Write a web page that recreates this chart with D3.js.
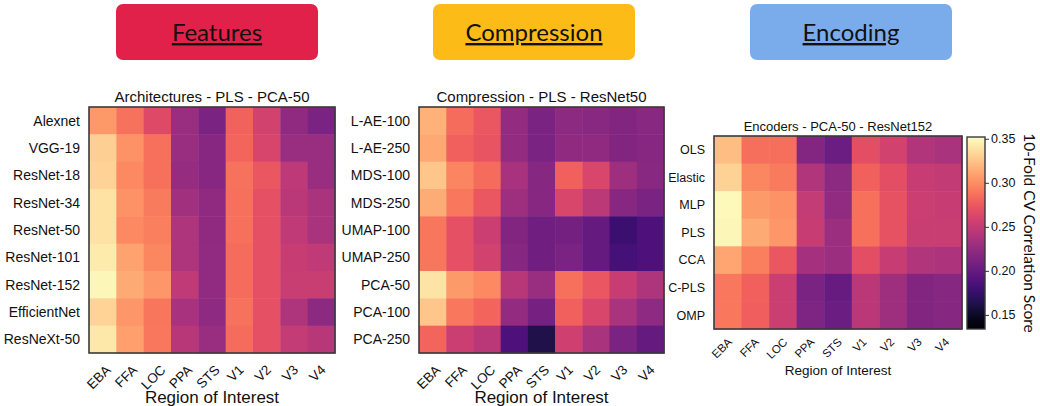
<!DOCTYPE html>
<html>
<head>
<meta charset="utf-8">
<script src="https://cdn.jsdelivr.net/npm/d3@7"></script>
<style>
  body { margin: 0; background: #fff; }
  svg { display: block; }
  text { font-family: "Liberation Sans", Arial, sans-serif; fill: #111; }
</style>
</head>
<body>
<svg id="chart" width="1040" height="406"></svg>
<script>
// regions of interest (columns, shared by all three panels)
const rois = ['EBA', 'FFA', 'LOC', 'PPA', 'STS', 'V1', 'V2', 'V3', 'V4'];

// panel 1 - architectures
const archRows = ['Alexnet', 'VGG-19', 'ResNet-18', 'ResNet-34', 'ResNet-50', 'ResNet-101', 'ResNet-152', 'EfficientNet', 'ResNeXt-50'];
const archValues = [
  [0.305, 0.288, 0.265, 0.228, 0.212, 0.280, 0.258, 0.223, 0.212],
  [0.330, 0.302, 0.287, 0.228, 0.219, 0.282, 0.261, 0.228, 0.228],
  [0.332, 0.298, 0.287, 0.226, 0.219, 0.288, 0.274, 0.247, 0.228],
  [0.339, 0.302, 0.292, 0.232, 0.223, 0.287, 0.270, 0.245, 0.237],
  [0.339, 0.298, 0.294, 0.239, 0.223, 0.287, 0.270, 0.248, 0.237],
  [0.343, 0.310, 0.297, 0.239, 0.224, 0.284, 0.270, 0.252, 0.248],
  [0.348, 0.313, 0.304, 0.248, 0.224, 0.284, 0.270, 0.253, 0.253],
  [0.332, 0.304, 0.289, 0.236, 0.222, 0.288, 0.270, 0.239, 0.221],
  [0.341, 0.308, 0.290, 0.243, 0.228, 0.284, 0.270, 0.250, 0.244]
];

// panel 2 - compression
const compRows = ['L-AE-100', 'L-AE-250', 'MDS-100', 'MDS-250', 'UMAP-100', 'UMAP-250', 'PCA-50', 'PCA-100', 'PCA-250'];
const compValues = [
  [0.317, 0.284, 0.274, 0.225, 0.212, 0.221, 0.220, 0.215, 0.220],
  [0.312, 0.279, 0.272, 0.225, 0.212, 0.223, 0.223, 0.215, 0.219],
  [0.326, 0.296, 0.284, 0.236, 0.218, 0.279, 0.262, 0.231, 0.220],
  [0.314, 0.290, 0.274, 0.231, 0.219, 0.262, 0.246, 0.219, 0.212],
  [0.289, 0.270, 0.254, 0.215, 0.206, 0.208, 0.200, 0.178, 0.187],
  [0.289, 0.270, 0.258, 0.218, 0.206, 0.212, 0.200, 0.183, 0.187],
  [0.340, 0.306, 0.298, 0.244, 0.228, 0.287, 0.273, 0.252, 0.239],
  [0.326, 0.290, 0.282, 0.225, 0.209, 0.279, 0.262, 0.237, 0.222],
  [0.281, 0.254, 0.245, 0.187, 0.163, 0.256, 0.237, 0.212, 0.200]
];

// panel 3 - encoders
const encRows = ['OLS', 'Elastic', 'MLP', 'PLS', 'CCA', 'C-PLS', 'OMP'];
const encValues = [
  [0.322, 0.286, 0.286, 0.216, 0.203, 0.268, 0.258, 0.240, 0.237],
  [0.331, 0.297, 0.292, 0.240, 0.221, 0.279, 0.268, 0.252, 0.249],
  [0.350, 0.306, 0.302, 0.250, 0.224, 0.287, 0.271, 0.254, 0.252],
  [0.348, 0.313, 0.304, 0.252, 0.230, 0.287, 0.271, 0.253, 0.253],
  [0.311, 0.294, 0.274, 0.234, 0.229, 0.268, 0.252, 0.240, 0.238],
  [0.290, 0.279, 0.254, 0.212, 0.201, 0.245, 0.231, 0.215, 0.218],
  [0.290, 0.278, 0.254, 0.214, 0.203, 0.245, 0.231, 0.215, 0.218]
];

// colour bar
const cbarTicks = [0.15, 0.20, 0.25, 0.30, 0.35];
const colorDomain = [0.134, 0.352];

// headers
const headers = ['Features', 'Compression', 'Encoding'];
const headerColors = ['#e2214a', '#fdbb17', '#7aacec'];

const svg = d3.select('#chart');
const color = d3.scaleSequential(d3.interpolateMagma).domain(colorDomain);

// header boxes
const headerX = d3.scalePoint().domain(headers).range([217, 851]);
const hdr = svg.append('g').selectAll('g')
    .data(headers)
    .enter().append('g')
    .attr('transform', d => `translate(${headerX(d)},0)`);
hdr.append('rect')
    .attr('x', -101)
    .attr('y', 4)
    .attr('width', 202)
    .attr('height', 56)
    .attr('rx', 7)
    .attr('fill', (d, i) => headerColors[i]);
hdr.append('text')
    .attr('y', 41)
    .attr('text-anchor', 'middle')
    .style('font-family', 'Lato, "Open Sans", sans-serif')
    .style('font-size', '24px')
    .style('text-decoration', 'underline')
    .text(d => d);

function drawHeatmap(opts) {
  const g = svg.append('g');
  const x = d3.scaleBand().domain(rois).range([opts.x0, opts.x1]);
  const y = d3.scaleBand().domain(opts.rows).range([opts.y0, opts.y1]);

  const cells = [];
  opts.values.forEach((row, i) => {
    row.forEach((v, j) => cells.push({ row: opts.rows[i], col: rois[j], v: v }));
  });

  g.selectAll('rect.cell')
      .data(cells)
      .enter().append('rect')
      .attr('class', 'cell')
      .attr('x', d => x(d.col))
      .attr('y', d => y(d.row))
      .attr('width', x.bandwidth() + 0.5)
      .attr('height', y.bandwidth() + 0.5)
      .attr('fill', d => color(d.v));

  g.append('rect')
      .attr('x', opts.x0)
      .attr('y', opts.y0)
      .attr('width', opts.x1 - opts.x0)
      .attr('height', opts.y1 - opts.y0)
      .attr('fill', 'none')
      .attr('stroke', '#3a3a3a')
      .attr('stroke-width', 1.6);

  g.append('text')
      .attr('x', (opts.x0 + opts.x1) / 2)
      .attr('y', opts.y0 - 5)
      .attr('text-anchor', 'middle')
      .style('font-size', opts.titleFs + 'px')
      .text(opts.title);

  g.selectAll('text.ylab')
      .data(opts.rows)
      .enter().append('text')
      .attr('class', 'ylab')
      .attr('x', opts.x0 - 9)
      .attr('y', d => y(d) + y.bandwidth() / 2)
      .attr('dy', '0.35em')
      .attr('text-anchor', 'end')
      .style('font-size', opts.fs + 'px')
      .text(d => d);

  // rotated tick labels, ink box hung just below the frame
  g.selectAll('text.xlab')
      .data(rois)
      .enter().append('text')
      .attr('class', 'xlab')
      .attr('text-anchor', 'middle')
      .attr('dy', '0.35em')
      .style('font-size', opts.xFs + 'px')
      .text(d => d)
      .each(function(d) {
        const w = this.getComputedTextLength();
        const h = opts.xFs * 0.72;
        const cx = x(d) + x.bandwidth() / 2 + opts.xShift;
        const cy = opts.y1 + opts.pad + (w + h) / (2 * Math.SQRT2);
        d3.select(this)
            .attr('x', cx)
            .attr('y', cy)
            .attr('transform', `rotate(-45,${cx},${cy})`);
      });

  g.append('text')
      .attr('x', (opts.x0 + opts.x1) / 2)
      .attr('y', opts.xTitleY)
      .attr('text-anchor', 'middle')
      .style('font-size', opts.xTitleFs + 'px')
      .text('Region of Interest');
}

drawHeatmap({
  title: 'Architectures - PLS - PCA-50',
  rows: archRows, values: archValues,
  x0: 89, x1: 335, y0: 107, y1: 353,
  fs: 14, titleFs: 15, xFs: 13.5, xShift: -4, pad: 11,
  xTitleY: 403, xTitleFs: 17
});

drawHeatmap({
  title: 'Compression - PLS - ResNet50',
  rows: compRows, values: compValues,
  x0: 419, x1: 664, y0: 107, y1: 353,
  fs: 14, titleFs: 15, xFs: 13.5, xShift: -4, pad: 11,
  xTitleY: 403, xTitleFs: 17
});

drawHeatmap({
  title: 'Encoders - PCA-50 - ResNet152',
  rows: encRows, values: encValues,
  x0: 714, x1: 962, y0: 136, y1: 329,
  fs: 12.5, titleFs: 13, xFs: 11.5, xShift: -6, pad: 8,
  xTitleY: 375, xTitleFs: 13.5
});

// colour bar
const cb = { x: 967, w: 18, y0: 137, y1: 329 };
const defs = svg.append('defs');
const grad = defs.append('linearGradient')
    .attr('id', 'cbar')
    .attr('x1', 0).attr('y1', 1)
    .attr('x2', 0).attr('y2', 0);
d3.range(0, 1.0001, 0.05).forEach(t => {
  grad.append('stop')
      .attr('offset', t)
      .attr('stop-color', d3.interpolateMagma(t));
});

const cbScale = d3.scaleLinear().domain(colorDomain).range([cb.y1, cb.y0]);
svg.append('rect')
    .attr('x', cb.x)
    .attr('y', cb.y0)
    .attr('width', cb.w)
    .attr('height', cb.y1 - cb.y0)
    .attr('fill', 'url(#cbar)')
    .attr('stroke', '#3a3a3a')
    .attr('stroke-width', 1.4);

const cbAxis = svg.append('g')
    .attr('transform', `translate(${cb.x + cb.w},0)`)
    .call(d3.axisRight(cbScale).tickValues(cbarTicks).tickFormat(d3.format('.2f')).tickSize(4).tickPadding(2));
cbAxis.select('.domain').remove();
cbAxis.selectAll('line').attr('stroke', '#333');
cbAxis.selectAll('text')
    .style('font-family', '"Liberation Sans", Arial, sans-serif')
    .style('font-size', '12.5px')
    .attr('fill', '#222');

svg.append('text')
    .attr('transform', `translate(1024,${(cb.y0 + cb.y1) / 2}) rotate(90)`)
    .attr('text-anchor', 'middle')
    .style('font-family', 'Lato, "Open Sans", sans-serif')
    .style('font-size', '15.5px')
    .text('10-Fold CV Correlation Score');
</script>
</body>
</html>
